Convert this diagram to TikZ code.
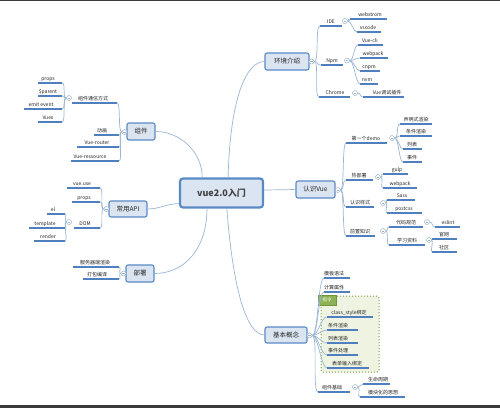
\documentclass[tikz,border=0pt]{standalone}
\usepackage{fontspec}
\setmainfont{Noto Sans CJK SC}
\usetikzlibrary{calc}
\definecolor{ulc}{HTML}{4F7FBF}
\definecolor{connc}{HTML}{9AB6D3}
\definecolor{boxfill}{HTML}{DBE5F1}
\definecolor{boxdraw}{HTML}{5A8AC6}
\definecolor{hubc}{HTML}{9FB3C8}
\definecolor{grpfill}{HTML}{EEF3E2}
\definecolor{grpdraw}{HTML}{7F9C45}
\definecolor{tagfill}{HTML}{8DB255}
\definecolor{tagdraw}{HTML}{6F9440}
\definecolor{barc}{HTML}{3A3A3A}
\newcommand\lfnode[6]{%
  \coordinate (#1-l) at (#2,#4);
  \coordinate (#1-r) at (#3,#4);
  \draw[uline] (#1-l) -- (#1-r);
  \node[lt] (#1) at (#5,#4-2.3) {#6};}
\begin{document}
\begin{tikzpicture}[x=1pt,y=-1pt,
  conn/.style={draw=connc, line width=0.7pt},
  uline/.style={draw=ulc, line width=1.4pt},
  lt/.style={inner sep=0pt, font=\fontsize{5}{6}\selectfont, text=black!85, anchor=base},
  mainbox/.style={draw=boxdraw, fill=boxfill, line width=1.1pt, rounded corners=2pt, inner sep=0pt, font=\fontsize{6.5}{8}\selectfont, text=black!85},
  hub/.style={circle, draw=hubc, fill=white, line width=0.5pt, minimum size=5pt, inner sep=0pt,
    path picture={\draw[hubc, line width=0.4pt] ([xshift=-1.2pt]path picture bounding box.center) -- ([xshift=1.2pt]path picture bounding box.center);}},
  xr/.style={to path={.. controls ($(\tikztostart)+(#1,0)$) and ($(\tikztotarget)+(-#1,0)$) .. (\tikztotarget)}}]
\useasboundingbox (0,0) rectangle (500,408);
\fill[white] (0,0) rectangle (500,408);
\fill[barc] (0,0) rectangle (500,1.3);
\fill[barc] (0,405) rectangle (500,408);

% group box for 指令
\draw[draw=grpdraw, fill=grpfill, line width=1pt, dotted, rounded corners=2pt] (321,296) rectangle (379,372);
\node[draw=tagdraw, fill=tagfill, line width=0.5pt, minimum width=18pt, minimum height=10pt, inner sep=0pt,
  font=\fontsize{4.5}{5}\selectfont, text=white] (tag) at (327,300) {指令};

% main nodes
\node[mainbox, line width=2.2pt, rounded corners=3pt, minimum width=83pt, minimum height=29pt,
  font=\fontsize{9}{11}\selectfont\bfseries, text=black!75] (center) at (221.5,193) {vue2.0入门};
\node[mainbox, minimum width=44pt, minimum height=17pt] (env) at (287,61.5) {环境介绍};
\node[mainbox, minimum width=39pt, minimum height=17pt] (rsvue) at (315.5,189.5) {认识Vue};
\node[mainbox, minimum width=42pt, minimum height=16pt] (jbgn) at (286,335) {基本概念};
\node[mainbox, minimum width=28pt, minimum height=17pt] (zj) at (141,131.5) {组件};
\node[mainbox, minimum width=38pt, minimum height=16pt] (api) at (128,209) {常用API};
\node[mainbox, minimum width=28pt, minimum height=17pt] (bs) at (140,273.5) {部署};

% main connectors
\draw[conn] (center.141.5) .. controls ($(center.141.5)+(0,-25)$) and ($(zj.east)+(25,0)$) .. (zj.east);
\draw[conn] (center.67) .. controls ($(center.67)+(2,-80)$) and ($(env.west)+(-18,0)$) .. (env.west);
\draw[conn] (center.4) -- (rsvue.west);
\draw[conn] (center.194.5) .. controls ($(center.194.5)+(-12,0)$) and ($(api.east)+(12,0)$) .. (api.east);
\draw[conn] (center.227) .. controls ($(center.227)+(0,40)$) and ($(bs.east)+(30,0)$) .. (bs.east);
\draw[conn] (center.289.5) .. controls ($(center.289.5)+(6,80)$) and ($(jbgn.west)+(-18,0)$) .. (jbgn.west);

% ---------- 环境介绍 ----------
\lfnode{ide}{320}{342}{26}{331}{IDE}
\lfnode{webstrom}{350}{387}{19}{370}{webstrom}
\lfnode{vscode}{357}{381}{32}{368}{vscode}
\lfnode{npm}{321}{343}{65}{332}{Npm}
\lfnode{vuecli}{358}{383}{45}{370}{Vue-cli}
\lfnode{webpacka}{360}{388}{58}{373}{webpack}
\lfnode{cnpm}{360}{380}{71}{369}{cnpm}
\lfnode{nvm}{360}{378}{84}{367}{nvm}
\lfnode{chrome}{319}{350}{97}{335}{Chrome}
\lfnode{vuedebug}{363}{404}{97}{387}{Vue调试插件}

% ---------- 认识Vue ----------
\lfnode{demo}{346}{387}{143}{366}{第一个demo}
\lfnode{smxr}{400}{432}{124}{416}{声明式渲染}
\lfnode{tjxr}{400}{432}{136}{416}{条件渲染}
\lfnode{lb}{403}{422}{149}{412}{列表}
\lfnode{sj}{403}{422}{162}{412}{事件}
\lfnode{rbs}{346}{373}{180}{359}{热部署}
\lfnode{gulp}{383}{408}{174}{397}{gulp}
\lfnode{webpackb}{383}{417}{188}{400}{webpack}
\lfnode{rsys}{346}{374}{207}{360}{认识样式}
\lfnode{sass}{387}{415}{200}{402}{Sass}
\lfnode{postcss}{387}{422}{213}{404}{postcss}
\lfnode{qzzs}{346}{375}{236}{360}{前置知识}
\lfnode{dmgf}{389}{423}{227}{406}{代码规范}
\lfnode{eslint}{435}{460}{227}{448}{eslint}
\lfnode{xxzl}{389}{425}{245}{407}{学习资料}
\lfnode{gw}{432}{457}{239}{444}{官网}
\lfnode{sq}{432}{457}{252}{444}{社区}

% ---------- 基本概念 ----------
\lfnode{mbyf}{324}{350}{278}{334}{模板语法}
\lfnode{jssx}{324}{350}{292}{334}{计算属性}
\lfnode{cls}{327}{373}{317}{349}{class\_style绑定}
\lfnode{tjb}{327}{358}{330}{338}{条件渲染}
\lfnode{lbxr}{327}{358}{343}{338}{列表渲染}
\lfnode{sjcl}{327}{358}{355}{338}{事件处理}
\lfnode{bd}{327}{369}{368}{347}{表单输入绑定}
\lfnode{zjjc}{318}{350}{392}{332}{组件基础}
\lfnode{smzq}{363}{390}{384}{378}{生命周期}
\lfnode{mkh}{360}{405}{397}{383}{模块化的思想}

% ---------- 组件 ----------
\lfnode{zjtx}{72}{117}{103}{93}{组件通信方式}
\lfnode{propsa}{38}{62}{83}{48}{props}
\lfnode{parent}{38}{62}{96}{48}{\$parent}
\lfnode{emit}{24}{62}{109}{41}{emit event}
\lfnode{vuex}{38}{62}{122}{48}{Vuex}
\lfnode{dh}{94}{119}{135}{102}{动画}
\lfnode{router}{77}{119}{147}{97}{Vue-router}
\lfnode{ress}{71}{119}{161}{90}{Vue-ressource}

% ---------- 常用API ----------
\lfnode{vueuse}{67}{100}{188}{82}{vue.use}
\lfnode{propsb}{72}{100}{202}{84}{props}
\lfnode{dom}{74}{100}{228}{85}{DOM}
\lfnode{el}{47}{65}{214}{53}{el}
\lfnode{tpl}{29}{65}{228}{45}{template}
\lfnode{render}{34}{65}{241}{48}{render}

% ---------- 部署 ----------
\lfnode{fwq}{73}{119}{267}{95}{服务器端渲染}
\lfnode{dbby}{83}{119}{279}{97}{打包编译}

% hubs
\node[hub] (envh) at (311.5,61.5) {};
\node[hub] (rsh) at (337.8,190) {};
\node[hub] (jbh) at (309.5,335.5) {};
\node[hub] (zjh) at (124.5,132) {};
\node[hub] (apih) at (106.5,209) {};
\node[hub] (bsh) at (123.5,273.5) {};
\node[hub] (ideh) at (345,21) {};
\node[hub] (npmh) at (347,60.5) {};
\node[hub] (chromeh) at (355,93) {};
\node[hub] (demoh) at (392,138) {};
\node[hub] (rbsh) at (378,177) {};
\node[hub] (rsysh) at (383,203) {};
\node[hub] (qzzsh) at (383,231) {};
\node[hub] (dmgfh) at (427,222) {};
\node[hub] (xxzlh) at (429,240) {};
\node[hub] (zjjch) at (355,387) {};
\node[hub] (zjtxh) at (69,98) {};
\node[hub] (domh) at (69,222) {};

% connectors right side
\foreach \t in {ide,npm,chrome} \draw[conn] (envh.east) to[xr=5] (\t-l);
\draw[conn] (ideh.east) to[xr=4] (webstrom-l);
\draw[conn] (ideh.east) to[xr=4] (vscode-l);
\foreach \t in {vuecli,webpacka,cnpm,nvm} \draw[conn] (npmh.east) to[xr=4] (\t-l);
\draw[conn] (chromeh.east) to[xr=3] (vuedebug-l);
\foreach \t in {demo,rbs,rsys,qzzs} \draw[conn] (rsh.east) to[xr=4] (\t-l);
\foreach \t in {smxr,tjxr,lb,sj} \draw[conn] (demoh.east) to[xr=4] (\t-l);
\foreach \t in {gulp,webpackb} \draw[conn] (rbsh.east) to[xr=3] (\t-l);
\foreach \t in {sass,postcss} \draw[conn] (rsysh.east) to[xr=3] (\t-l);
\foreach \t in {dmgf,xxzl} \draw[conn] (qzzsh.east) to[xr=3] (\t-l);
\draw[conn] (dmgfh.east) to[xr=3] (eslint-l);
\foreach \t in {gw,sq} \draw[conn] (xxzlh.east) to[xr=2] (\t-l);
\foreach \t in {mbyf,jssx,cls,tjb,lbxr,sjcl,bd,zjjc} \draw[conn] (jbh.east) to[xr=6] (\t-l);
\foreach \t in {smzq,mkh} \draw[conn] (zjjch.east) to[xr=3] (\t-l);

% connectors left side
\foreach \t in {zjtx,dh,router,ress} \draw[conn] (zjh.west) to[xr=-4] (\t-r);
\foreach \t in {propsa,parent,emit,vuex} \draw[conn] (zjtxh.west) to[xr=-4] (\t-r);
\foreach \t in {vueuse,propsb,dom} \draw[conn] (apih.west) to[xr=-4] (\t-r);
\foreach \t in {el,tpl,render} \draw[conn] (domh.west) to[xr=-3] (\t-r);
\foreach \t in {fwq,dbby} \draw[conn] (bsh.west) to[xr=-3] (\t-r);
\end{tikzpicture}
\end{document}
